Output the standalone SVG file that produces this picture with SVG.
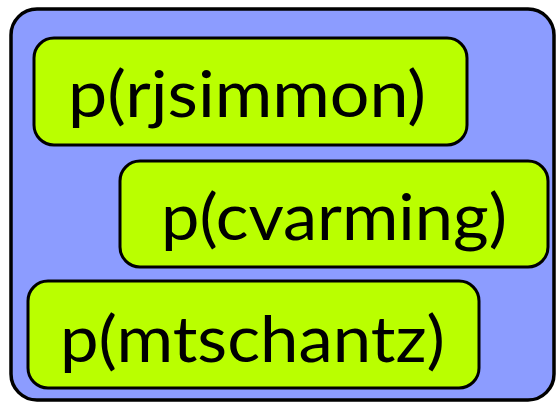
<svg xmlns="http://www.w3.org/2000/svg" width="556" height="402" viewBox="0 0 556 402">
  <style>
    .outer { fill: #8c9cff; stroke: #000; stroke-width: 3.5; }
    .box { fill: #baff00; stroke: #000; stroke-width: 3; }
    .label { font-family: "Lato", "Open Sans", sans-serif; font-size: 64px; fill: #000; }
  </style>
  <g id="container">
    <rect class="outer" x="11" y="9" width="543" height="391" rx="26" ry="26"/>
  </g>
  <g id="node-rjsimmon">
    <rect class="box" x="34" y="38" width="433" height="107" rx="20" ry="20"/>
    <text class="label" x="68" y="117" textLength="358" lengthAdjust="spacingAndGlyphs">p(rjsimmon)</text>
  </g>
  <g id="node-cvarming">
    <rect class="box" x="120" y="161" width="428" height="106" rx="20" ry="20"/>
    <text class="label" x="161" y="240" textLength="346" lengthAdjust="spacingAndGlyphs">p(cvarming)</text>
  </g>
  <g id="node-mtschantz">
    <rect class="box" x="28" y="281" width="451" height="107" rx="20" ry="20"/>
    <text class="label" x="60" y="362" textLength="385" lengthAdjust="spacingAndGlyphs">p(mtschantz)</text>
  </g>
  <g id="connectors"/>
</svg>
